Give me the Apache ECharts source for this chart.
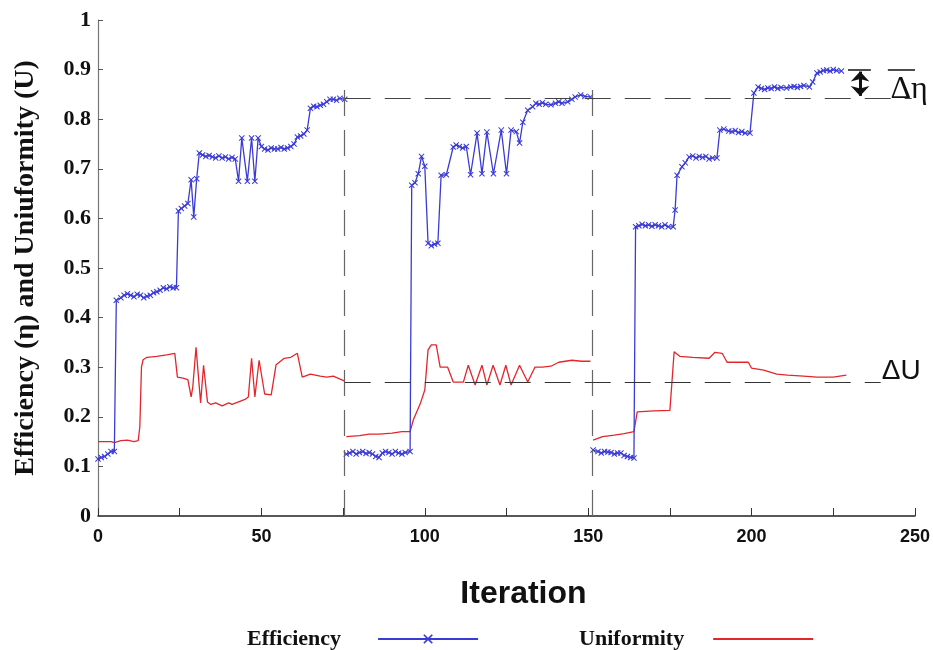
<!DOCTYPE html>
<html>
<head>
<meta charset="utf-8">
<script src="https://cdn.jsdelivr.net/npm/echarts@6/dist/echarts.min.js"></script>
<style>
  html, body { margin: 0; padding: 0; background: #fff; }
  #chart { width: 933px; height: 650px; }
</style>
</head>
<body>
<div id="chart"></div>
<script>
// iteration / value pairs, null = gap between runs
const effX = [0, 1, 2, 3, 4, 5, 5.6, 7, 8, 9, 10, 11, 12, 13, 14, 15, 16, 17, 18, 19, 20, 21, 22, 23, 24, 24.6, 25.5, 26.5, 27.5, 28.5, 29.3, 30.2, 31, 32, 33, 34, 35, 36, 37, 38, 39, 40, 41, 42, 43, 44, 45.7, 47, 48, 49, 50, 51, 52, 53, 54, 55, 56, 57, 58, 59, 60, 61, 62, 63, 64, 65, 66, 67, 68, 69, 70, 71, 72, 73, 74, 75.5,
  75.7,
  76, 77, 78, 79, 80, 81, 82, 83, 84, 85, 86, 87, 88, 89, 90, 91, 92, 93, 94, 95.5, 96, 97, 98, 99, 100, 101, 102, 103, 104, 105, 106.6, 108.7, 109.6, 110.6, 111.6, 112.7, 114, 116, 117.5, 119, 121, 123.4, 125, 126.4, 128, 129, 130, 131.5, 133, 134, 135, 136, 137, 138.6, 140, 141, 142, 143.7, 145, 146, 147.7, 149, 150.7,
  151,
  151.5, 153, 154, 155, 156, 157, 158, 159, 160, 161, 162, 163, 164, 164.5, 165.5, 166.5, 167.5, 168.5, 169.5, 170.5, 171.5, 172.5, 173.5, 174.5, 176, 176.6, 177.2, 178.7, 179.7, 180.9, 182, 183, 184, 185, 186, 187, 188, 189.4, 190.3, 191.5, 193, 194, 195, 196, 197, 198, 199.5, 200.7, 202, 203, 204, 205, 206, 207, 208, 209, 210.7, 212, 213, 214, 215, 216, 217.7, 218.7, 220, 221, 222, 223, 224, 225, 226, 227.5];
const effY = [0.115, 0.118, 0.12, 0.125, 0.13, 0.13, 0.435, 0.44, 0.445, 0.448, 0.445, 0.442, 0.447, 0.445, 0.44, 0.443, 0.445, 0.45, 0.452, 0.455, 0.46, 0.458, 0.462, 0.46, 0.46, 0.615, 0.62, 0.625, 0.63, 0.678, 0.603, 0.68, 0.732, 0.728, 0.725, 0.727, 0.724, 0.722, 0.726, 0.722, 0.724, 0.72, 0.723, 0.72, 0.675, 0.762, 0.675, 0.762, 0.675, 0.762, 0.745, 0.74, 0.738, 0.742, 0.74, 0.74, 0.743, 0.74, 0.742, 0.745, 0.75, 0.764, 0.766, 0.77, 0.778, 0.822, 0.826, 0.825, 0.828, 0.83, 0.835, 0.84, 0.84, 0.838, 0.842, 0.84,
  null,
  0.125, 0.127, 0.13, 0.125, 0.128, 0.13, 0.126, 0.128, 0.125, 0.12, 0.118, 0.127, 0.13, 0.128, 0.125, 0.13, 0.127, 0.125, 0.128, 0.13, 0.667, 0.672, 0.69, 0.725, 0.705, 0.55, 0.545, 0.548, 0.55, 0.687, 0.688, 0.744, 0.748, 0.745, 0.742, 0.745, 0.688, 0.772, 0.69, 0.774, 0.69, 0.778, 0.69, 0.778, 0.775, 0.752, 0.794, 0.818, 0.825, 0.832, 0.83, 0.833, 0.83, 0.829, 0.832, 0.835, 0.832, 0.835, 0.84, 0.845, 0.849, 0.846, 0.845,
  null,
  0.133, 0.13, 0.127, 0.13, 0.129, 0.128, 0.125, 0.127, 0.127, 0.122, 0.12, 0.118, 0.117, 0.583, 0.585, 0.588, 0.585, 0.587, 0.584, 0.587, 0.585, 0.583, 0.587, 0.583, 0.583, 0.617, 0.687, 0.704, 0.712, 0.724, 0.726, 0.722, 0.725, 0.723, 0.725, 0.72, 0.722, 0.722, 0.778, 0.78, 0.776, 0.775, 0.777, 0.773, 0.775, 0.772, 0.772, 0.853, 0.865, 0.862, 0.86, 0.863, 0.862, 0.865, 0.862, 0.864, 0.863, 0.865, 0.866, 0.864, 0.866, 0.868, 0.865, 0.875, 0.893, 0.895, 0.898, 0.899, 0.897, 0.9, 0.898, 0.897];

const uniX = [0, 4, 5, 7, 9, 11, 12.3, 12.8, 13.3, 13.8, 15, 18, 21, 23.5, 24.3, 26, 27.5, 28.5, 29, 30, 31.4, 32.3, 33.5, 34.5, 36, 38, 40, 41, 43, 45, 46, 47, 48, 49.3, 51, 53, 54.5, 57, 59, 61, 62.5, 65, 68, 70, 72, 75.5,
  75.7,
  76, 80, 83, 86, 90, 93, 95.5, 96.5, 98.7, 100, 101, 102, 103.5, 104.7, 107, 108.7, 111.8, 113.3, 115.4, 117.5, 119, 120.9, 123, 124.8, 126.4, 129, 131.5, 133.7, 136, 138.6, 141, 145, 148, 150.7,
  151,
  151.5, 154.4, 158, 161, 164, 165, 170, 175, 176.3, 178, 182, 187, 188.8, 191, 192.5, 196, 199, 200, 203.7, 207.7, 211, 215.9, 220, 225, 229];
const uniY = [0.15, 0.15, 0.148, 0.152, 0.153, 0.15, 0.152, 0.18, 0.3, 0.315, 0.32, 0.322, 0.325, 0.328, 0.28, 0.278, 0.275, 0.24, 0.26, 0.34, 0.228, 0.304, 0.23, 0.225, 0.228, 0.222, 0.228, 0.225, 0.23, 0.235, 0.24, 0.318, 0.24, 0.314, 0.246, 0.244, 0.305, 0.318, 0.32, 0.328, 0.28, 0.286, 0.282, 0.28, 0.282, 0.272,
  null,
  0.16, 0.162, 0.165, 0.165, 0.167, 0.17, 0.17, 0.194, 0.228, 0.254, 0.335, 0.345, 0.345, 0.3, 0.3, 0.27, 0.27, 0.304, 0.264, 0.304, 0.264, 0.304, 0.264, 0.304, 0.264, 0.304, 0.27, 0.3, 0.3, 0.302, 0.31, 0.314, 0.312, 0.312,
  null,
  0.153, 0.16, 0.163, 0.166, 0.17, 0.21, 0.212, 0.213, 0.331, 0.322, 0.32, 0.318, 0.33, 0.328, 0.31, 0.31, 0.31, 0.298, 0.294, 0.286, 0.284, 0.282, 0.28, 0.28, 0.284];

// reference levels drawn as dashed guides
const runEnds = [75.5, 151.3];
const etaLevel = 0.843;
const etaMax = 0.9;
const uLevel = 0.27;

const xTicks = [0, 50, 100, 150, 200, 250];

function pairs(xs, ys) {
  return xs.map((x, i) => [x, ys[i] === null ? "-" : ys[i]]);
}

const blue = "#3a3ad6";
const red = "#e3262b";
const xMark = "path://M0,1.2L1.2,0L5,3.8L8.8,0L10,1.2L6.2,5L10,8.8L8.8,10L5,6.2L1.2,10L0,8.8L3.8,5Z";
const dash = [26, 14];
const legendFont = { fontFamily: "Liberation Serif", fontWeight: "bold", fontSize: 22, color: "#111" };

let mycharts = echarts.init(document.getElementById("chart"));
mycharts.setOption({
  animation: false,
  grid: { left: 98, right: 14, top: 20, bottom: 134 },
  legend: {
    left: 242,
    top: 623,
    align: "right",
    itemWidth: 100,
    itemHeight: 12,
    itemGap: 100,
    textStyle: legendFont,
    data: [
      { name: "Efficiency", textStyle: { ...legendFont, padding: [0, 32, 0, 0] } },
      { name: "Uniformity", textStyle: { ...legendFont, padding: [0, 24, 0, 0] } },
    ],
  },
  xAxis: {
    type: "value",
    min: 0,
    max: 250,
    interval: 25,
    name: "Iteration",
    nameLocation: "middle",
    nameGap: 62,
    nameTextStyle: {
      fontFamily: "Liberation Sans",
      fontWeight: "bold",
      fontSize: 32,
      color: "#111",
      padding: [0, 0, 0, 34],
    },
    splitLine: { show: false },
    axisLine: { show: true, lineStyle: { color: "#222", width: 1.5 } },
    axisTick: { show: true, inside: true, length: 8, lineStyle: { color: "#333" } },
    axisLabel: {
      margin: 12,
      fontFamily: "Liberation Sans",
      fontWeight: "bold",
      fontSize: 18,
      color: "#111",
      formatter: (v) => (xTicks.includes(v) ? String(v) : ""),
    },
  },
  yAxis: {
    type: "value",
    min: 0,
    max: 1,
    interval: 0.1,
    name: "Efficiency (η) and Uniuformity (U)",
    nameLocation: "middle",
    nameGap: 58,
    nameTextStyle: {
      fontFamily: "Liberation Serif",
      fontWeight: "bold",
      fontSize: 28,
      color: "#111",
    },
    splitLine: { show: false },
    axisLine: { show: true, lineStyle: { color: "#777", width: 1.2 } },
    axisTick: { show: true, inside: true, length: 5, lineStyle: { color: "#555" } },
    axisLabel: {
      margin: 7,
      fontFamily: "Liberation Serif",
      fontWeight: "bold",
      fontSize: 22,
      color: "#111",
      formatter: (v) => (v === 0 || v === 1 ? String(v) : v.toFixed(1)),
    },
  },
  series: [
    {
      name: "Efficiency",
      type: "line",
      data: pairs(effX, effY),
      connectNulls: false,
      symbol: xMark,
      symbolSize: 6,
      showSymbol: true,
      itemStyle: { color: blue },
      lineStyle: { color: blue, width: 1.3 },
      z: 3,
      markLine: {
        silent: true,
        symbol: "none",
        label: { show: false },
        data: [
          [
            { coord: [runEnds[0], 0], lineStyle: { color: "#666", width: 1.2, type: dash } },
            { coord: [runEnds[0], 0.885] },
          ],
          [
            { coord: [runEnds[1], 0], lineStyle: { color: "#666", width: 1.2, type: dash } },
            { coord: [runEnds[1], 0.885] },
          ],
          [
            { coord: [runEnds[0], etaLevel], lineStyle: { color: "#444", width: 1.2, type: dash } },
            { coord: [249, etaLevel] },
          ],
          [
            { coord: [229.5, etaMax], lineStyle: { color: "#111", width: 1.5, type: "solid" } },
            { coord: [236.5, etaMax] },
          ],
          [
            { coord: [241.7, etaMax], lineStyle: { color: "#111", width: 1.5, type: "solid" } },
            { coord: [250, etaMax] },
          ],
          [
            {
              coord: [233.2, etaLevel + 0.004],
              symbol: "arrow",
              symbolSize: [14, 10],
              lineStyle: { color: "#111", width: 3, type: "solid" },
            },
            { coord: [233.2, etaMax - 0.004], symbol: "arrow", symbolSize: [14, 10] },
          ],
          [
            { coord: [runEnds[0], uLevel], lineStyle: { color: "#333", width: 1.2, type: dash } },
            { coord: [239.5, uLevel] },
          ],
        ],
      },
      markPoint: {
        silent: true,
        symbol: "circle",
        symbolSize: 1,
        itemStyle: { color: "rgba(0,0,0,0)" },
        data: [
          {
            coord: [248.2, 0.86],
            label: {
              show: true,
              position: "inside",
              formatter: "Δη",
              fontFamily: "Liberation Serif",
              fontSize: 32,
              color: "#111",
            },
          },
          {
            coord: [245.8, 0.292],
            label: {
              show: true,
              position: "inside",
              formatter: "ΔU",
              fontFamily: "Liberation Sans",
              fontSize: 28,
              color: "#111",
            },
          },
        ],
      },
    },
    {
      name: "Uniformity",
      type: "line",
      data: pairs(uniX, uniY),
      connectNulls: false,
      symbol: "none",
      // transparent item colour keeps the legend icon a plain line
      itemStyle: { color: "rgba(0,0,0,0)" },
      lineStyle: { color: red, width: 1.3 },
      z: 2,
    },
  ],
});
</script>
</body>
</html>
